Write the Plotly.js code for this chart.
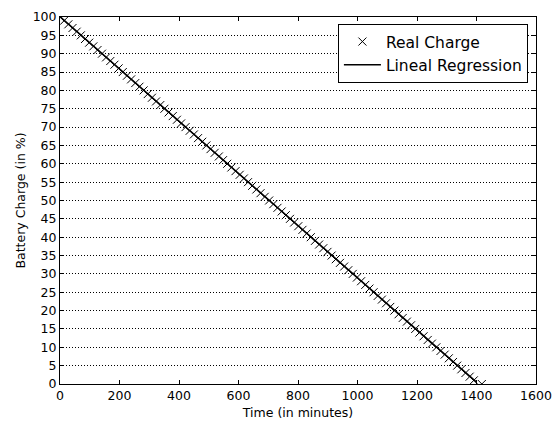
<!DOCTYPE html>
<html>
<head>
<meta charset="utf-8">
<script src="https://cdn.plot.ly/plotly-3.0.1.min.js"></script>
<style>html,body{margin:0;padding:0;background:#fff;}#chart{width:559px;height:425px;}</style>
</head>
<body>
<div id="chart"></div>
<script>
const timeMinutes = [0,14,28,42,56,70,84,98,112,126,141,155,169,183,197,211,225,239,253,267,281,295,309,323,337,351,365,379,393,407,422,436,450,464,478,492,506,520,534,548,562,576,590,604,618,632,646,660,674,688,703,717,731,745,759,773,787,801,815,829,843,857,871,885,899,913,927,941,955,969,984,998,1012,1026,1040,1054,1068,1082,1096,1110,1124,1138,1152,1166,1180,1194,1208,1222,1236,1250,1265,1279,1293,1307,1321,1335,1349,1363,1377,1391,1418];
const chargePercent = [100,99,98,97,96,95,94,93,92,91,90,89,88,87,86,85,84,83,82,81,80,79,78,77,76,75,74,73,72,71,70,69,68,67,66,65,64,63,62,61,60,59,58,57,56,55,54,53,52,51,50,49,48,47,46,45,44,43,42,41,40,39,38,37,36,35,34,33,32,31,30,29,28,27,26,25,24,23,22,21,20,19,18,17,16,15,14,13,12,11,10,9,8,7,6,5,4,3,2,1,0];
const regressionX = [0, 1400];
const regressionY = [100.1, 0.5];
const xTicks = [0,200,400,600,800,1000,1200,1400,1600];
const yTicks = [0,5,10,15,20,25,30,35,40,45,50,55,60,65,70,75,80,85,90,95,100];

const font = {family: 'DejaVu Sans', size: 12.5, color: '#000'};
const traces = [
  {x: timeMinutes, y: chargePercent, mode: 'markers', name: 'Real Charge',
   marker: {symbol: 'x-thin', size: 8, color: '#000', line: {width: 1, color: '#000'}}},
  {x: regressionX, y: regressionY, mode: 'lines', name: 'Lineal Regression',
   line: {color: '#000', width: 1.5}}
];
const layout = {
  width: 559, height: 425, autosize: false,
  margin: {l: 60, r: 23, t: 17, b: 41, pad: 0},
  paper_bgcolor: '#fff', plot_bgcolor: '#fff',
  font: font,
  showlegend: true,
  legend: {x: 0.983, xanchor: 'right', y: 0.981, yanchor: 'top', bgcolor: '#fff',
           bordercolor: '#000', borderwidth: 1, itemwidth: 37,
           font: {family: 'DejaVu Sans', size: 15.5, color: '#000'}},
  xaxis: {range: [0, 1600], tickvals: xTicks, ticktext: xTicks.map(String), ticks: 'inside', ticklen: 4,
          tickcolor: '#000', showline: true, linecolor: '#000', linewidth: 1, mirror: 'ticks',
          showgrid: false, zeroline: false, tickfont: font, automargin: false,
          title: {text: 'Time (in minutes)', font: font, standoff: 6}},
  yaxis: {range: [0, 100], tickvals: yTicks, ticktext: yTicks.map(String), ticks: 'inside', ticklen: 4,
          tickcolor: '#000', showline: true, linecolor: '#000', linewidth: 1, mirror: 'ticks',
          showgrid: true, gridcolor: '#000', gridwidth: 1, griddash: '1px,2px', zeroline: false, tickfont: font,
          automargin: false,
          title: {text: 'Battery Charge (in %)', font: font}}
};
Plotly.newPlot('chart', traces, layout, {displayModeBar: false, staticPlot: true});
</script>
</body>
</html>
